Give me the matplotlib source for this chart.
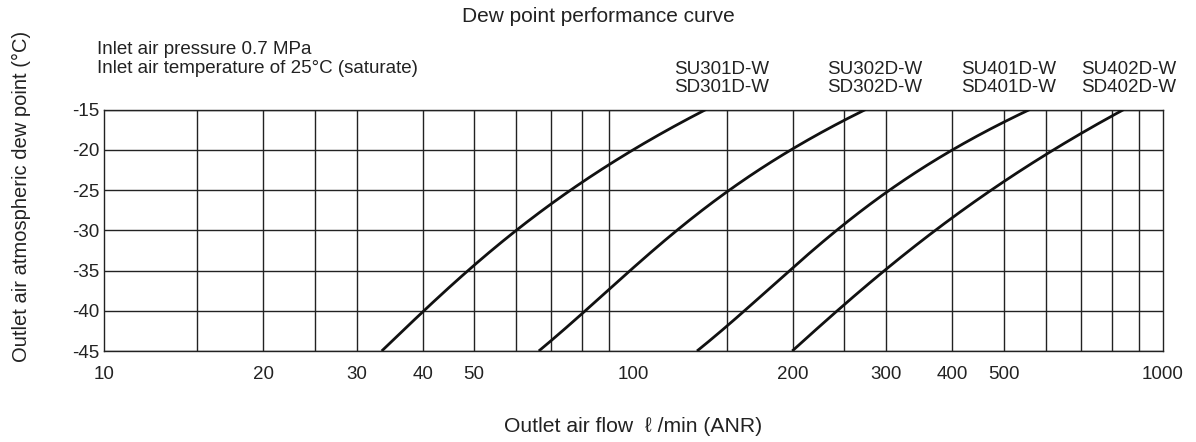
import numpy as np
import matplotlib
matplotlib.use("Agg")
import matplotlib.pyplot as plt

plt.rcParams['font.family'] = ['Liberation Sans', 'DejaVu Sans']

# Data (flow l/min, dew point degC)
dew = [-45, -40, -35, -30, -25, -20, -15]
flow_su301 = [33.5, 40, 49, 60, 76, 100, 137]
flow_su302 = [66.5, 80, 100, 121, 150, 200, 274]
flow_su401 = [133, 158, 200, 246, 300, 400, 562]
flow_su402 = [200, 241, 300, 364, 495, 600, 852]

model_labels = ["SU301D-W\nSD301D-W", "SU302D-W\nSD302D-W",
                "SU401D-W\nSD401D-W", "SU402D-W\nSD402D-W"]
label_x = [147, 285, 511, 861]

x_grid = [15, 20, 25, 30, 40, 50, 60, 70, 80, 90,
          150, 200, 250, 300, 400, 500, 600, 700, 800, 900]
x_ticks = [10, 20, 30, 40, 50, 100, 200, 300, 400, 500, 1000]
y_ticks = [-15, -20, -25, -30, -35, -40, -45]

W, H = 1196, 442
fig = plt.figure(figsize=(W / 100, H / 100), dpi=100)
ax = fig.add_axes([104 / W, 1 - 351 / H, (1163 - 104) / W, (351 - 109.5) / H])
ax.set_xscale('log')
ax.set_xlim(10, 1000)
ax.set_ylim(-45, -15)

gc = '#222222'
tc = '#222222'
for xv in x_grid:
    ax.axvline(xv, color=gc, lw=1.0, zorder=1)
for yv in y_ticks:
    ax.axhline(yv, color=gc, lw=1.0, zorder=1)

for fl in [flow_su301, flow_su302, flow_su401, flow_su402]:
    lx = np.log10(fl)
    coef = np.polyfit(dew, lx, 3)
    yy = np.linspace(-45, -15, 200)
    xx = 10 ** np.polyval(coef, yy)
    ax.plot(xx, yy, color='#111111', lw=2.0, zorder=3, solid_capstyle='butt')

for sp in ax.spines.values():
    sp.set_color(gc)
    sp.set_linewidth(1.0)

ax.set_xticks(x_ticks)
ax.set_xticklabels([str(v) for v in x_ticks])
ax.xaxis.set_minor_locator(matplotlib.ticker.NullLocator())
ax.set_yticks(y_ticks)
ax.set_yticklabels([str(v) for v in y_ticks])
ax.tick_params(axis='both', length=0, labelsize=13.5, colors=tc)
ax.tick_params(axis='x', pad=11)
ax.tick_params(axis='y', pad=3.5)

trans = ax.get_xaxis_transform()
for txt, xv in zip(model_labels, label_x):
    ax.text(xv, 1 + (109.5 - 96) / (351 - 109.5), txt, transform=trans,
            ha='center', va='bottom', fontsize=13.5, color=tc, linespacing=1.05)

fig.text(0.5, 1 - 16 / H, "Dew point performance curve", ha='center', va='center',
         fontsize=15, color=tc)
fig.text(97 / W, 1 - 41 / H,
         "Inlet air pressure 0.7 MPa\nInlet air temperature of 25\u00b0C (saturate)",
         ha='left', va='top', fontsize=13.5, color=tc, linespacing=1.12)
fig.text(633 / W, 1 - 426 / H, "Outlet air flow  \u2113 /min (ANR)", ha='center', va='center',
         fontsize=15.2, color=tc)
fig.text(21 / W, 1 - 196 / H, "Outlet air atmospheric dew point (\u00b0C)", ha='center',
         va='center', rotation=90, fontsize=14.5, color=tc)

fig.savefig("out.png", dpi=100)
